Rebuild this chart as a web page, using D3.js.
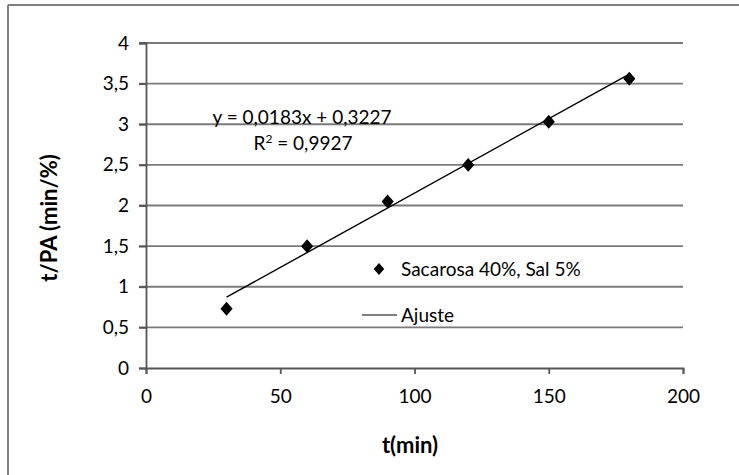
<!DOCTYPE html>
<html><head><meta charset="utf-8">
<script src="https://cdn.jsdelivr.net/npm/d3@7"></script>
<style>body{margin:0;background:#fff}svg{display:block}text{font-family:Lato,"Open Sans",sans-serif;fill:#000}</style>
</head><body><svg id="c" width="739" height="475"></svg>
<script>
const tData = [30, 60, 90, 120, 150, 180];
const yData = [0.73, 1.50, 2.05, 2.50, 3.03, 3.56];
const xTicks = [0, 50, 100, 150, 200];
const yTicks = [0, 0.5, 1, 1.5, 2, 2.5, 3, 3.5, 4];
const slope = 0.0183, intercept = 0.3227, r2 = 0.9927;
const seriesName = "Sacarosa 40%, Sal 5%";
const fitName = "Ajuste";

const svg = d3.select("#c");
const x = d3.scaleLinear().domain([0, 200]).range([146, 683]);
const y = d3.scaleLinear().domain([0, 4]).range([368, 43]);
const fmt = v => String(v).replace(".", ",");

// outer frame (top & left visible)
svg.append("line").attr("x1",8).attr("x2",739).attr("y1",5).attr("y2",5).attr("stroke","#7f7f7f").attr("stroke-width",2);
svg.append("line").attr("x1",8).attr("x2",8).attr("y1",5).attr("y2",475).attr("stroke","#7f7f7f").attr("stroke-width",2);

// gridlines
svg.append("g").selectAll("line").data(yTicks.filter(d=>d>0)).join("line")
  .attr("x1", x(0)-7).attr("x2", x(200)).attr("y1", d=>y(d)).attr("y2", d=>y(d))
  .attr("stroke","#7a7a7a").attr("stroke-width",1.8);

// y axis
const ya = svg.append("g").attr("transform",`translate(${x(0)},0)`)
  .call(d3.axisLeft(y).tickValues(yTicks).tickSize(7).tickPadding(10).tickFormat(fmt));
ya.select(".domain").attr("stroke","#555").attr("stroke-width",1.8);
ya.selectAll(".tick line").attr("stroke","#555").attr("stroke-width",1.8);
ya.selectAll("text").attr("font-size",19).attr("fill","#000").style("font-family","Lato");

// x axis
const xa = svg.append("g").attr("transform",`translate(0,${y(0)})`)
  .call(d3.axisBottom(x).tickValues(xTicks).tickSize(6).tickPadding(16).tickFormat(fmt));
xa.select(".domain").attr("stroke","#555").attr("stroke-width",1.8);
xa.selectAll(".tick line").attr("stroke","#555").attr("stroke-width",1.8);
xa.selectAll("text").attr("font-size",19).attr("fill","#000").style("font-family","Lato");

// trend line
svg.append("line")
  .attr("x1", x(tData[0])).attr("y1", y(slope*tData[0]+intercept))
  .attr("x2", x(tData[tData.length-1])).attr("y2", y(slope*tData[tData.length-1]+intercept))
  .attr("stroke","#000").attr("stroke-width",1.4);

// markers
const diamond = d3.symbol().type(d3.symbolSquare).size(74);
svg.append("g").selectAll("path").data(tData.map((t,i)=>[t,yData[i]])).join("path")
  .attr("d", diamond)
  .attr("transform", d=>`translate(${x(d[0])},${y(d[1])}) scale(1,1.15) rotate(45)`)
  .attr("fill","#000");

// equation
svg.append("text").attr("x",302).attr("y",124).attr("text-anchor","middle").attr("font-size",19)
  .text(`y = ${fmt(slope)}x + ${fmt(intercept)}`);
const rt = svg.append("text").attr("x",303).attr("y",150).attr("text-anchor","middle").attr("font-size",19);
rt.append("tspan").text("R");
rt.append("tspan").attr("font-size",12).attr("dy",-7).text("2");
rt.append("tspan").attr("dy",7).text(` = ${fmt(r2)}`);

// legend
svg.append("path").attr("d", d3.symbol().type(d3.symbolSquare).size(56))
  .attr("transform","translate(379,269) scale(1,1.15) rotate(45)").attr("fill","#000");
svg.append("text").attr("x",401).attr("y",276).attr("font-size",19).text(seriesName);
svg.append("line").attr("x1",362).attr("x2",397).attr("y1",315).attr("y2",315).attr("stroke","#000").attr("stroke-width",1.2);
svg.append("text").attr("x",401).attr("y",322).attr("font-size",19).text(fitName);

// axis titles
svg.append("text").attr("x",410).attr("y",453).attr("text-anchor","middle").attr("font-size",22).attr("font-weight","bold").text("t(min)");
svg.append("text").attr("transform","translate(57,218) rotate(-90)").attr("text-anchor","middle").attr("font-size",22).attr("font-weight","bold").text("t/PA (min/%)");
</script></body></html>
